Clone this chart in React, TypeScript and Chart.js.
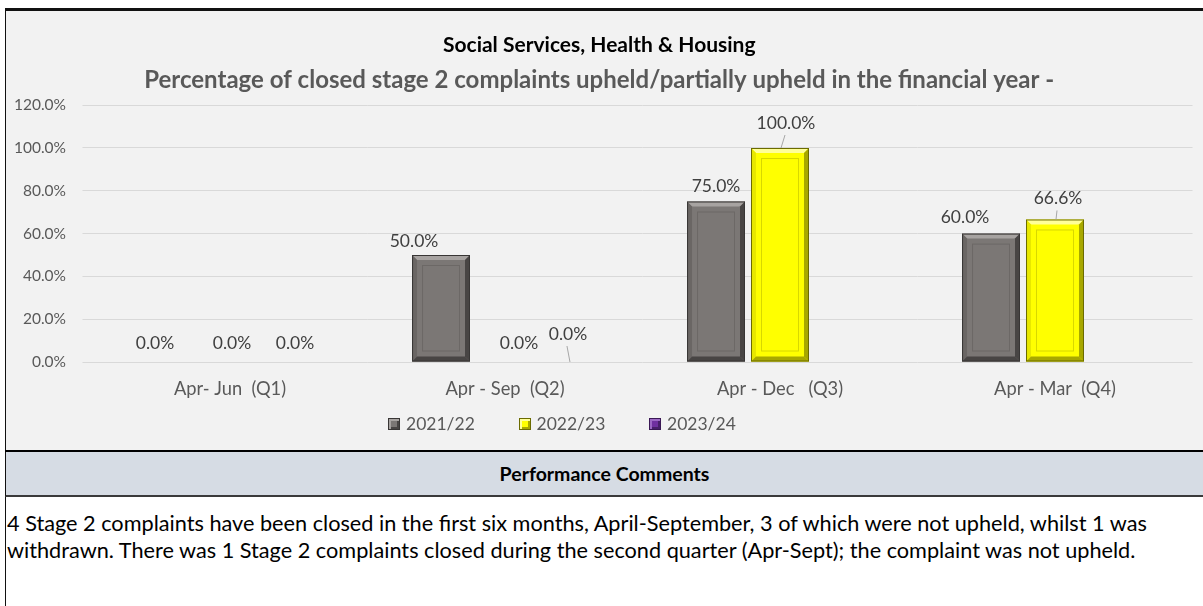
import React, { useEffect, useRef } from "react";
import { Chart, registerables } from "chart.js";

Chart.register(...registerables);

// ---------- data ----------
const categories = ["Apr- Jun  (Q1)", "Apr - Sep  (Q2)", "Apr - Dec   (Q3)", "Apr - Mar  (Q4)"];
const seriesNames = ["2021/22", "2022/23", "2023/24"];
const values2021_22: (number | null)[] = [0, 50, 75, 60];
const values2022_23: (number | null)[] = [0, 0, 100, 66.6];
const values2023_24: (number | null)[] = [0, 0, null, null];
const yTickValues = [0, 20, 40, 60, 80, 100, 120];
const titleText = "Social Services, Health & Housing";
const subtitleText = "Percentage of closed stage 2 complaints upheld/partially upheld in the financial year -";
const commentsHeading = "Performance Comments";
const commentLines = [
  "4 Stage 2 complaints have been closed in the first six months, April-September, 3 of which were not upheld, whilst 1 was",
  "withdrawn. There was 1 Stage 2 complaints closed during the second quarter (Apr-Sept); the complaint was not upheld.",
];

// ---------- styles ----------
const FONT = "Lato, 'Open Sans', sans-serif";
const barStyles = [
  { fill: "#7B7775", border: "#383635", light: "#A7A3A1", side: "#6A6664", dark: "#484544", inner: "#6C6866" },
  { fill: "#FFFF00", border: "#6B6B00", light: "#FFFF99", side: "#E8E800", dark: "#A8A800", inner: "#D8D800" },
  { fill: "#7030A0", border: "#3A1855", light: "#9C68C4", side: "#62288E", dark: "#48206A", inner: "#5E2888" },
];
// label nudges (pixels, relative to default label spot above each bar)
const labelNudges = [
  { dx: [-11, -27, 0, -26], dy: [-3, 2, 1, 0], leader: [false, false, false, false] },
  { dx: [2, 14, 6, 3], dy: [-3, -3, -9, -5], leader: [false, false, true, true] },
  { dx: [1, -1, 0, 0], dy: [-3, -12, 0, 0], leader: [false, true, false, false] },
];

const seriesValues = [values2021_22, values2022_23, values2023_24];

const bevelPlugin = {
  id: "bevelBars",
  afterDatasetsDraw(chart: any) {
    const ctx: CanvasRenderingContext2D = chart.ctx;
    chart.data.datasets.forEach((ds: any, di: number) => {
      const meta = chart.getDatasetMeta(di);
      const st = barStyles[di];
      meta.data.forEach((bar: any, i: number) => {
        const v = ds.data[i];
        if (v == null || v === 0) return;
        const p = bar.getProps(["x", "y", "base", "width"], true);
        const l = p.x - p.width / 2;
        const r = p.x + p.width / 2;
        const t = Math.min(p.y, p.base);
        const b = Math.max(p.y, p.base);
        const bv = Math.min(5, (b - t) / 2);
        const poly = (pts: number[][], color: string) => {
          ctx.beginPath();
          ctx.moveTo(pts[0][0], pts[0][1]);
          for (let k = 1; k < pts.length; k++) ctx.lineTo(pts[k][0], pts[k][1]);
          ctx.closePath();
          ctx.fillStyle = color;
          ctx.fill();
        };
        ctx.save();
        poly([[l, t], [r, t], [r - bv, t + bv], [l + bv, t + bv]], st.light);
        poly([[l, t], [l + bv, t + bv], [l + bv, b - bv], [l, b]], st.side);
        poly([[r, t], [r, b], [r - bv, b - bv], [r - bv, t + bv]], st.dark);
        poly([[l, b], [l + bv, b - bv], [r - bv, b - bv], [r, b]], st.dark);
        const ins = 10;
        if (b - t > 2 * ins + 4) {
          ctx.strokeStyle = st.inner;
          ctx.lineWidth = 1;
          ctx.strokeRect(l + ins + 0.5, t + ins + 0.5, r - l - 2 * ins - 1, b - t - 2 * ins - 1);
        }
        ctx.strokeStyle = st.border;
        ctx.lineWidth = 1;
        ctx.strokeRect(l + 0.5, t + 0.5, r - l - 1, b - t - 1);
        ctx.restore();
      });
    });
  },
};

const labelPlugin = {
  id: "valueLabels",
  afterDatasetsDraw(chart: any) {
    const ctx: CanvasRenderingContext2D = chart.ctx;
    ctx.save();
    ctx.font = `17.5px ${FONT}`;
    ctx.fillStyle = "#404040";
    ctx.textAlign = "center";
    ctx.textBaseline = "middle";
    chart.data.datasets.forEach((ds: any, di: number) => {
      const meta = chart.getDatasetMeta(di);
      const nd = labelNudges[di];
      meta.data.forEach((bar: any, i: number) => {
        const v = ds.data[i];
        if (v == null) return;
        const p = bar.getProps(["x", "y"], true);
        const tx = p.x + nd.dx[i];
        const ty = p.y - 16 + nd.dy[i];
        ctx.fillText(`${Number(v).toFixed(1)}%`, tx, ty);
        if (nd.leader[i]) {
          ctx.strokeStyle = "#A6A6A6";
          ctx.lineWidth = 1;
          ctx.beginPath();
          ctx.moveTo(tx - 1, ty + 12);
          ctx.lineTo(p.x + 1, p.y);
          ctx.stroke();
        }
      });
    });
    ctx.restore();
  },
};

export default function App() {
  const canvasRef = useRef<HTMLCanvasElement | null>(null);

  useEffect(() => {
    if (!canvasRef.current) return;
    const chart = new Chart(canvasRef.current, {
      type: "bar",
      data: {
        labels: categories,
        datasets: seriesNames.map((name, i) => ({
          label: name,
          data: seriesValues[i],
          backgroundColor: barStyles[i].fill,
          borderWidth: 0,
          categoryPercentage: 0.698,
          barPercentage: 0.906,
        })),
      },
      options: {
        animation: false,
        responsive: false,
        devicePixelRatio: 1,
        layout: { padding: { left: 0, right: 10.5, top: 0, bottom: 0 } },
        scales: {
          x: {
            grid: { display: false, drawTicks: false },
            border: { display: false },
            ticks: { color: "#595959", font: { family: FONT, size: 18.3 }, padding: 16.3, maxRotation: 0, autoSkip: false },
            afterFit: (s: any) => {
              s.height = 88;
            },
          },
          y: {
            min: 0,
            max: 120,
            afterBuildTicks: (s: any) => {
              s.ticks = yTickValues.map((v) => ({ value: v }));
            },
            ticks: {
              color: "#595959",
              font: { family: FONT, size: 15.5 },
              padding: 16.5,
              callback: (v: any) => `${Number(v).toFixed(1)}%`,
            },
            grid: { color: "#D9D9D9", lineWidth: 1, drawTicks: true, tickLength: 10, tickColor: "#D9D9D9" },
            border: { display: false },
            afterFit: (s: any) => {
              s.width = 86.5;
            },
          },
        },
        plugins: {
          legend: { display: false },
          tooltip: { enabled: false },
          title: {
            display: true,
            text: titleText,
            color: "#000000",
            font: { family: FONT, size: 21, weight: "bold" },
            padding: { top: 21.4, bottom: 4 },
          },
          subtitle: {
            display: true,
            text: subtitleText,
            color: "#595959",
            font: { family: FONT, size: 24, weight: "bold" },
            padding: { top: 4, bottom: 10.8 },
          },
        },
      },
      plugins: [bevelPlugin, labelPlugin],
    } as any);
    return () => chart.destroy();
  }, []);

  return (
    <div
      style={{
        position: "fixed",
        left: 0,
        top: 0,
        width: 1203,
        height: 606,
        background: "#FFFFFF",
        overflow: "hidden",
        fontFamily: FONT,
      }}
    >
      <div
        style={{
          position: "absolute",
          left: 5,
          top: 8,
          width: 1198,
          height: 442,
          boxSizing: "border-box",
          background: "#F2F2F2",
          borderTop: "3px solid #111",
          borderLeft: "1px solid #111",
        }}
      >
        <canvas ref={canvasRef} width={1197} height={439} style={{ display: "block", width: 1197, height: 439 }} />
        <div style={{ position: "absolute", left: 382, top: 403, display: "flex", alignItems: "center" }}>
          {seriesNames.map((name, i) => (
            <div key={name} style={{ width: 130.5, display: "flex", alignItems: "center" }}>
              <span
                style={{
                  display: "inline-block",
                  width: 12,
                  height: 12,
                  boxSizing: "border-box",
                  background: barStyles[i].fill,
                  border: `1px solid ${barStyles[i].border}`,
                  boxShadow: `inset 2px 2px 0 ${barStyles[i].light}, inset -2px -2px 0 ${barStyles[i].dark}`,
                  marginRight: 6,
                }}
              />
              <span style={{ color: "#595959", fontSize: 17.5, lineHeight: "20px" }}>{name}</span>
            </div>
          ))}
        </div>
      </div>
      <div style={{ position: "absolute", left: 5, top: 450, width: 1198, height: 2, background: "#000" }} />
      <div
        style={{
          position: "absolute",
          left: 5,
          top: 452,
          width: 1198,
          height: 45,
          boxSizing: "border-box",
          background: "#D6DCE4",
          borderLeft: "1px solid #111",
          borderBottom: "2px solid #3A3A3A",
          textAlign: "center",
          fontWeight: "bold",
          fontSize: 19.5,
          lineHeight: "43px",
          color: "#000",
        }}
      >
        {commentsHeading}
      </div>
      <div
        style={{
          position: "absolute",
          left: 5,
          top: 497,
          width: 1198,
          height: 109,
          boxSizing: "border-box",
          background: "#FFFFFF",
          borderLeft: "1px solid #111",
          paddingTop: 12.5,
          paddingLeft: 1,
          fontSize: 21.7,
          lineHeight: "27px",
          color: "#000",
          whiteSpace: "nowrap",
        }}
      >
        {commentLines.map((line) => (
          <div key={line}>{line}</div>
        ))}
      </div>
    </div>
  );
}
